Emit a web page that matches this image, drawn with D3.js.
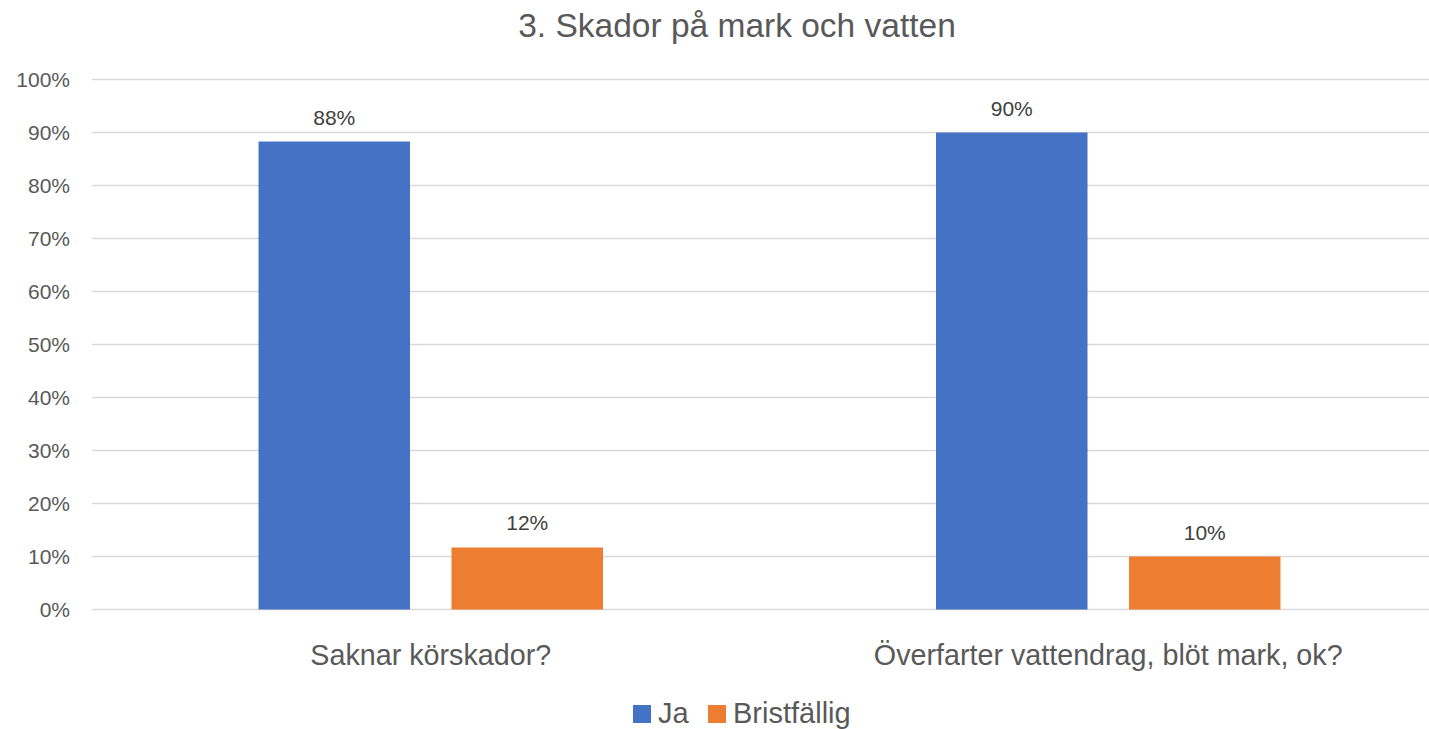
<!DOCTYPE html>
<html>
<head>
<meta charset="utf-8">
<script src="https://cdn.jsdelivr.net/npm/d3@7"></script>
<style>
  body { margin: 0; background: #fff; }
  text { font-family: "Liberation Sans", Arial, sans-serif; }
</style>
</head>
<body>
<div id="chart"></div>
<script>
'use strict';

var categories = ["Saknar körskador?", "Överfarter vattendrag, blöt mark, ok?"];
var seriesNames = ["Ja", "Bristfällig"];
var jaValues = [88.3, 90];
var bristValues = [11.7, 10];
var yTicks = [0, 10, 20, 30, 40, 50, 60, 70, 80, 90, 100];
var colors = ["#4472C4", "#ED7D31"];

var width = 1429, height = 729;
var margin = { top: 79.5, right: -18, bottom: 119.5, left: 92 };
var innerW = width - margin.left - margin.right,
  innerH = height - margin.top - margin.bottom;

var svg = d3.select("#chart").append("svg")
  .attr("width", width)
  .attr("height", height);

// title
svg.append("text")
  .attr("x", 737)
  .attr("y", 37)
  .attr("text-anchor", "middle")
  .attr("fill", "#595959")
  .style("font-size", "33.5px")
  .text("3. Skador på mark och vatten");

var g = svg.append("g")
  .attr("transform", "translate(" + margin.left + "," + margin.top + ")");

var y = d3.scaleLinear().domain([0, 100]).range([innerH, 0]);
var x0 = d3.scaleBand().domain(categories).range([0, innerW]).padding(0);
var x1 = d3.scaleBand().domain(seriesNames).range([0, x0.bandwidth()])
  .paddingInner(0.215).paddingOuter(0.863);

// gridlines
g.selectAll(".grid")
  .data(yTicks)
  .enter().append("line")
  .attr("class", "grid")
  .attr("x1", 0)
  .attr("x2", innerW)
  .attr("y1", function (d) { return y(d); })
  .attr("y2", function (d) { return y(d); })
  .attr("stroke", "#d9d9d9")
  .attr("stroke-width", 1.5);

// y axis labels
var yAxis = d3.axisLeft(y)
  .tickValues(yTicks)
  .tickSize(0)
  .tickPadding(22)
  .tickFormat(function (d) { return d + "%"; });

g.append("g")
  .call(yAxis)
  .call(function (s) { s.select(".domain").remove(); })
  .selectAll("text")
  .attr("fill", "#595959")
  .style("font-size", "21px")
  .style("font-family", "'Liberation Sans', Arial, sans-serif");

// bars
var rows = categories.map(function (c, i) {
  return { cat: c, vals: [jaValues[i], bristValues[i]] };
});

var groups = g.selectAll(".cat")
  .data(rows)
  .enter().append("g")
  .attr("class", "cat")
  .attr("transform", function (d) { return "translate(" + x0(d.cat) + ",0)"; });

groups.selectAll("rect")
  .data(function (d) { return d.vals.map(function (v, i) { return { s: seriesNames[i], v: v, i: i }; }); })
  .enter().append("rect")
  .attr("x", function (d) { return x1(d.s); })
  .attr("width", x1.bandwidth())
  .attr("y", function (d) { return y(d.v); })
  .attr("height", function (d) { return innerH - y(d.v); })
  .attr("fill", function (d) { return colors[d.i]; });

groups.selectAll(".lbl")
  .data(function (d) { return d.vals.map(function (v, i) { return { s: seriesNames[i], v: v }; }); })
  .enter().append("text")
  .attr("class", "lbl")
  .attr("x", function (d) { return x1(d.s) + x1.bandwidth() / 2; })
  .attr("y", function (d) { return y(d.v) - 17; })
  .attr("text-anchor", "middle")
  .attr("fill", "#404040")
  .style("font-size", "21px")
  .text(function (d) { return Math.round(d.v) + "%"; });

// category labels
g.selectAll(".catlbl")
  .data(categories)
  .enter().append("text")
  .attr("class", "catlbl")
  .attr("x", function (d) { return x0(d) + x0.bandwidth() / 2; })
  .attr("y", innerH + 55)
  .attr("text-anchor", "middle")
  .attr("fill", "#595959")
  .style("font-size", "28.7px")
  .text(function (d) { return d; });

// legend
var legendX = [633, 708];
var legend = svg.selectAll(".legend")
  .data(seriesNames)
  .enter().append("g")
  .attr("class", "legend")
  .attr("transform", function (d, i) { return "translate(" + legendX[i] + ",705)"; });

legend.append("rect")
  .attr("width", 18)
  .attr("height", 18)
  .attr("fill", function (d, i) { return colors[i]; });

legend.append("text")
  .attr("x", 25)
  .attr("y", 18)
  .attr("fill", "#595959")
  .style("font-size", "29px")
  .text(function (d) { return d; });
</script>
</body>
</html>
